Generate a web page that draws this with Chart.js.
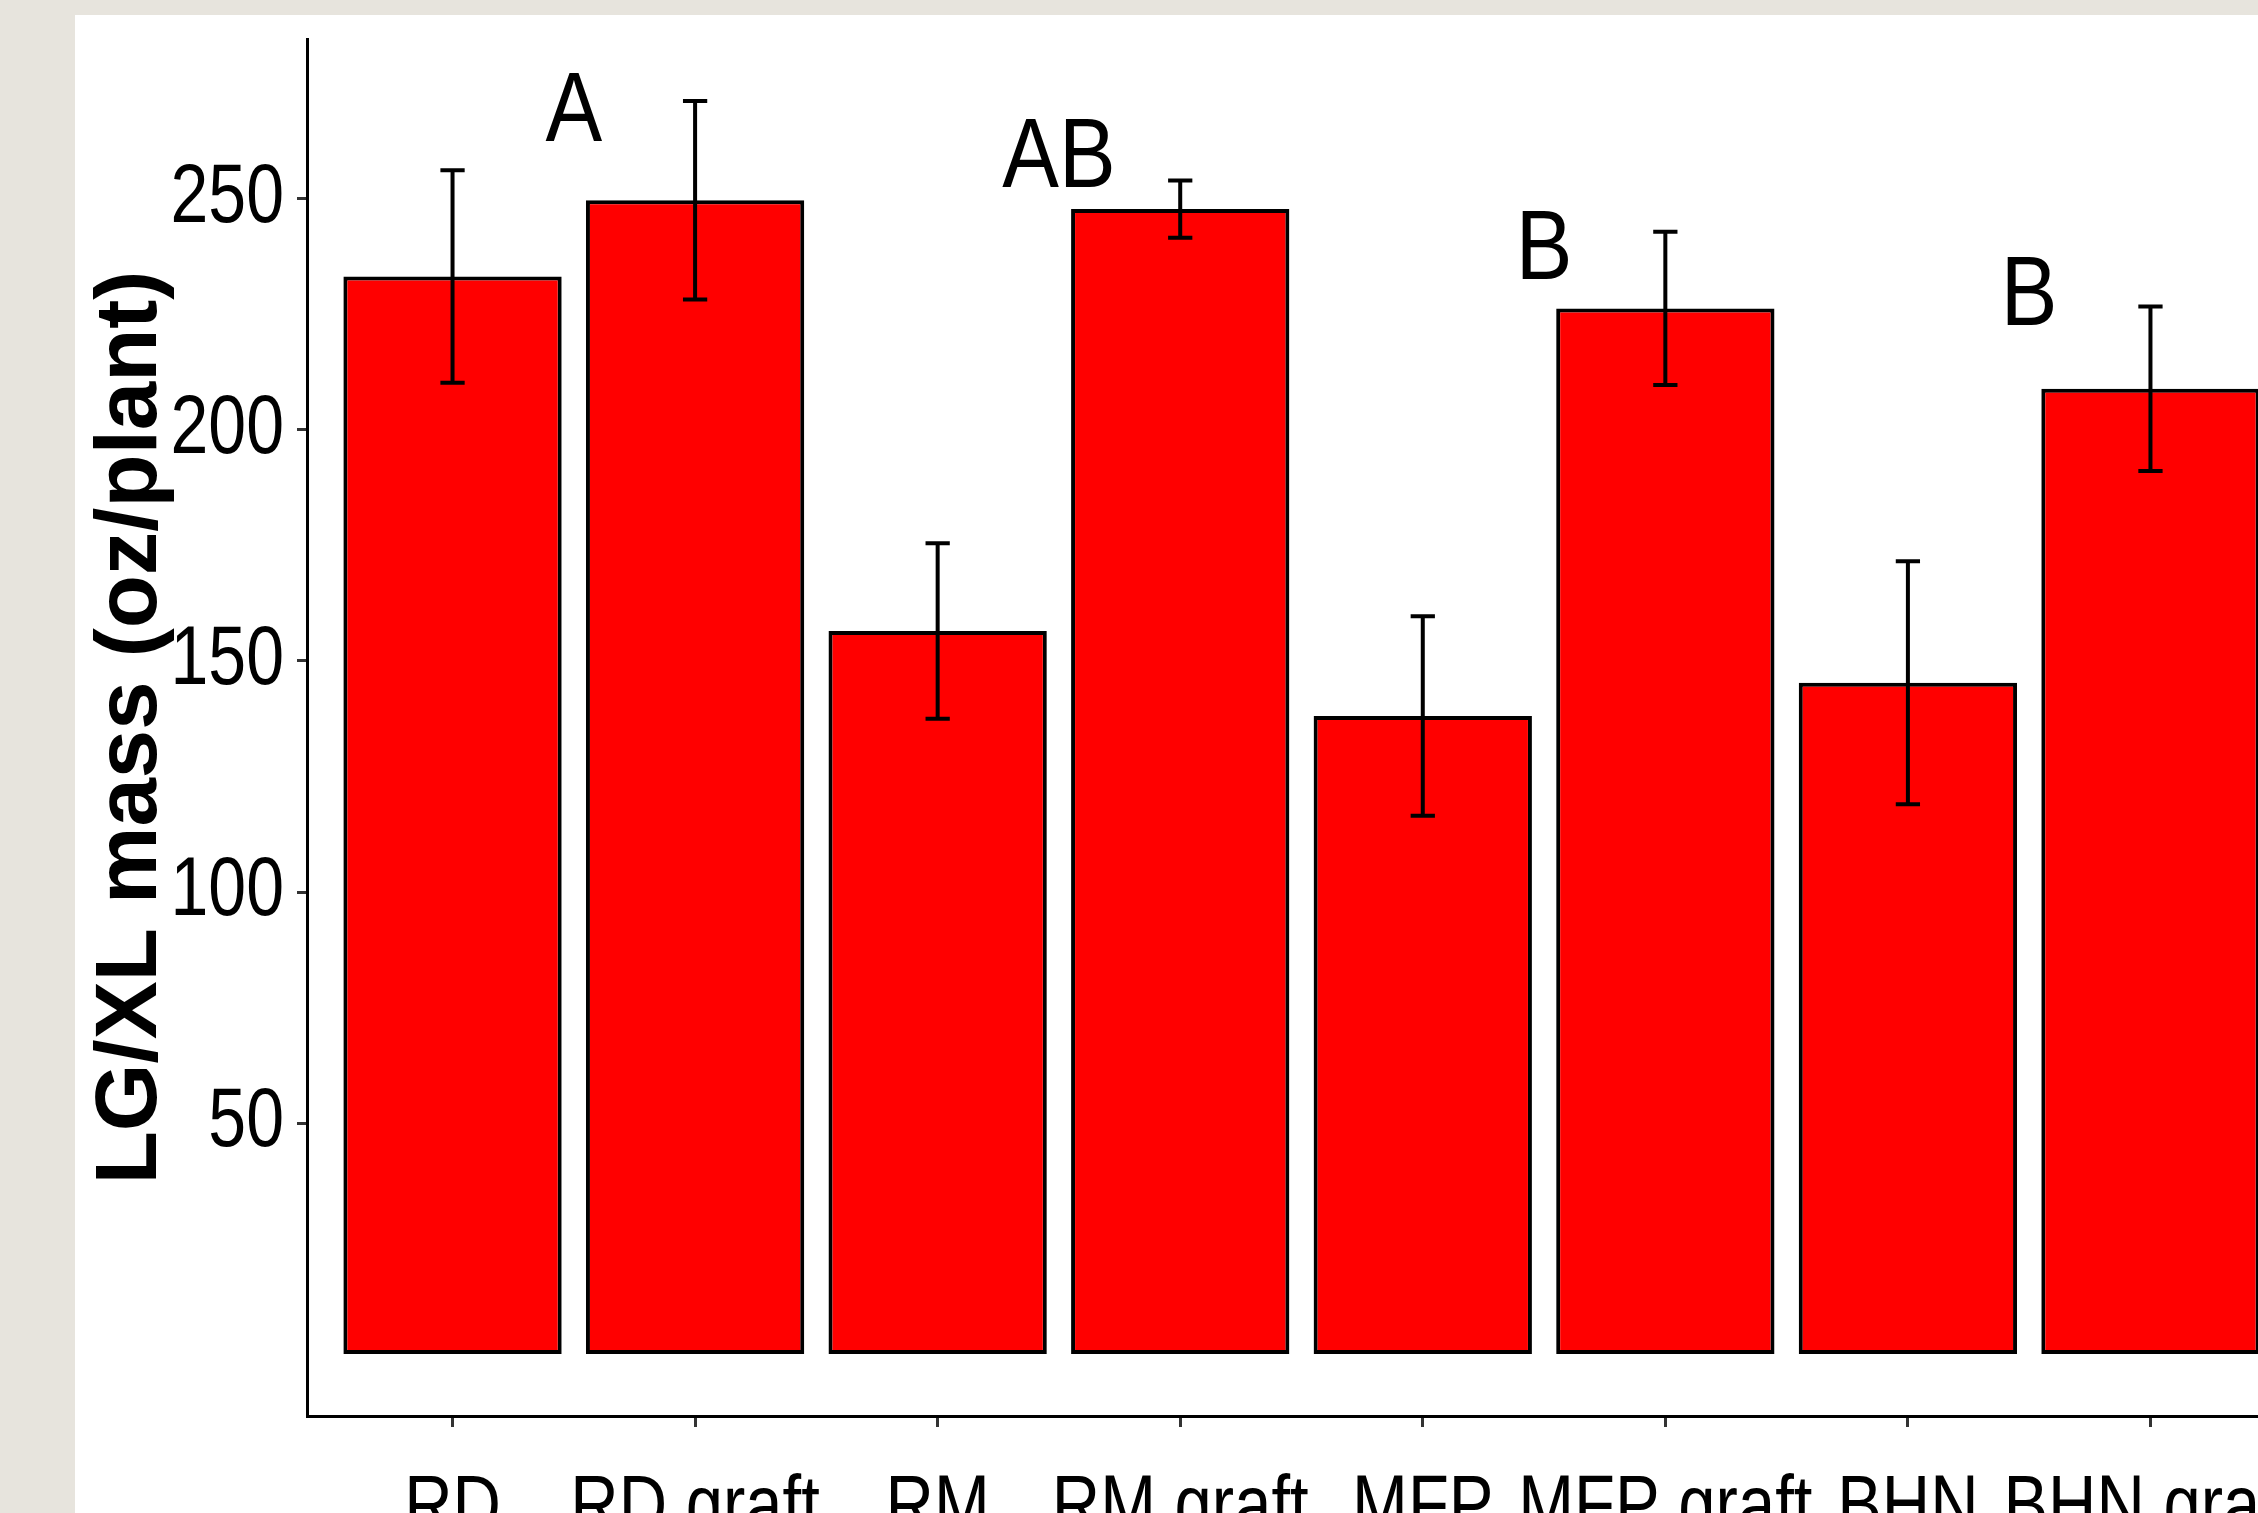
<!DOCTYPE html>
<html>
<head>
<meta charset="utf-8">
<script src="https://cdn.jsdelivr.net/npm/chart.js@4.4.0/dist/chart.umd.min.js"></script>
<style>
html,body{margin:0;padding:0;width:2258px;height:1513px;overflow:hidden;background:#e7e4dd;}
#panel{position:absolute;left:75px;top:15px;width:2400px;height:1600px;background:#ffffff;}
canvas{display:block;}
</style>
</head>
<body>
<div id="panel"><canvas id="c" width="2400" height="1600"></canvas></div>
<script>
// ---- data ----
const categories = ['RD', 'RD graft', 'RM', 'RM graft', 'MFP', 'MFP graft', 'BHN', 'BHN graft'];
const meanMass = [233.2, 249.7, 156.5, 247.8, 138.1, 226.3, 145.3, 208.9];
const stdError = [23.0, 21.5, 19.0, 6.2, 21.6, 16.6, 26.3, 17.8];
const groupLetters = ['A', 'AB', 'B', 'B'];
const letterHeights = [262.6, 252.6, 232.7, 222.7];
const yTickValues = [50, 100, 150, 200, 250];
const yTitle = 'LG/XL mass (oz/plant)';

const SANS = '"Liberation Sans", Arial, sans-serif';
const TALL = 1.22;   // the reference text is drawn vertically stretched

function tallText(ctx, text, x, y, size, stretch, align, baseline) {
  ctx.save();
  ctx.translate(x, y);
  ctx.scale(1, stretch);
  ctx.font = size + 'px ' + SANS;
  ctx.textAlign = align;
  ctx.textBaseline = baseline;
  ctx.fillText(text, 0, 0);
  ctx.restore();
}

const errorBarPlugin = {
  id: 'errorBars',
  afterDatasetsDraw(chart) {
    const {ctx, scales: {x, y}} = chart;
    ctx.save();
    ctx.strokeStyle = '#000';
    ctx.lineWidth = 4;
    const capHalf = (x.getPixelForValue(1) - x.getPixelForValue(0)) * 0.05;
    meanMass.forEach((m, i) => {
      const px = x.getPixelForValue(i);
      const top = y.getPixelForValue(m + stdError[i]);
      const bot = y.getPixelForValue(m - stdError[i]);
      ctx.beginPath();
      ctx.moveTo(px, top); ctx.lineTo(px, bot);
      ctx.moveTo(px - capHalf, top); ctx.lineTo(px + capHalf, top);
      ctx.moveTo(px - capHalf, bot); ctx.lineTo(px + capHalf, bot);
      ctx.stroke();
    });
    ctx.restore();
  }
};

const letterPlugin = {
  id: 'groupLetters',
  afterDatasetsDraw(chart) {
    const {ctx, scales: {x, y}} = chart;
    ctx.save();
    ctx.fillStyle = '#000';
    groupLetters.forEach((t, g) => {
      const px = (x.getPixelForValue(2 * g) + x.getPixelForValue(2 * g + 1)) / 2;
      const py = y.getPixelForValue(letterHeights[g]);
      tallText(ctx, t, px, py, 85, 1.15, 'center', 'alphabetic');
    });
    ctx.restore();
  }
};

// tick labels of both axes, placed from the scales' own ticks
const tickLabelPlugin = {
  id: 'tallTickLabels',
  afterDraw(chart) {
    const {ctx, scales: {x, y}} = chart;
    ctx.save();
    ctx.fillStyle = '#000';
    y.ticks.forEach((t) => {
      const py = y.getPixelForValue(t.value);
      tallText(ctx, String(t.value), y.right - 10 - 13, py, 68, TALL, 'right', 'middle');
    });
    x.ticks.forEach((t) => {
      const px = x.getPixelForValue(t.value);
      tallText(ctx, categories[t.value], px, x.top + 116, 67, TALL, 'center', 'alphabetic');
    });
    ctx.restore();
  }
};

new Chart(document.getElementById('c'), {
  type: 'bar',
  data: {
    datasets: [{
      data: meanMass.map((v, i) => ({x: i, y: v})),
      backgroundColor: '#ff0000',
      borderColor: '#000000',
      borderWidth: 4,
      borderSkipped: false,
      barPercentage: 0.9,
      categoryPercentage: 1.0
    }]
  },
  options: {
    responsive: false,
    animation: false,
    layout: {padding: {left: 0, top: 24, right: 179, bottom: 0}},
    plugins: {legend: {display: false}, tooltip: {enabled: false}},
    scales: {
      x: {
        type: 'linear',
        offset: false,
        min: -0.6,
        max: 7.6,
        afterBuildTicks: (s) => { s.ticks = categories.map((_, i) => ({value: i})); },
        afterFit: (s) => { s.height = 199; s.paddingLeft = 0; s.paddingRight = 0; },
        grid: {offset: false, drawOnChartArea: false, drawTicks: true, tickLength: 11, color: '#333333', lineWidth: 3},
        border: {display: true, color: '#000000', width: 3},
        ticks: {display: false}
      },
      y: {
        min: -13.4,
        max: 284.6,
        afterBuildTicks: (s) => { s.ticks = yTickValues.map(v => ({value: v})); },
        afterFit: (s) => { s.width = 232; s.paddingTop = 0; s.paddingBottom = 0; },
        grid: {drawOnChartArea: false, drawTicks: true, tickLength: 10, color: '#333333', lineWidth: 3},
        border: {display: true, color: '#000000', width: 3},
        ticks: {display: false},
        title: {
          display: true, text: yTitle, color: '#000000',
          font: {family: SANS, size: 87, weight: 'bold', lineHeight: 1.2},
          padding: {top: 5, bottom: 0}
        }
      }
    }
  },
  plugins: [errorBarPlugin, letterPlugin, tickLabelPlugin]
});
</script>
</body>
</html>
